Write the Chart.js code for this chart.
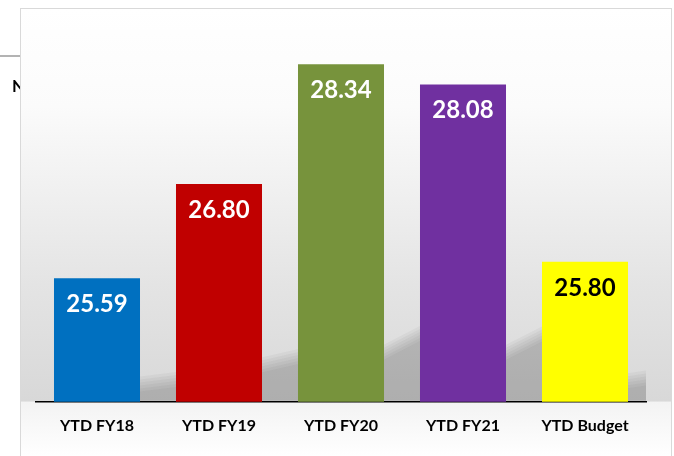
<!DOCTYPE html>
<html>
<head>
<meta charset="utf-8">
<script src="https://cdn.jsdelivr.net/npm/chart.js@4.4.1/dist/chart.umd.min.js"></script>
<style>
  html, body { margin: 0; padding: 0; background: #fff; }
  #wrap { width: 674px; height: 456px; }
</style>
</head>
<body>
<div id="wrap"><canvas id="myChart"></canvas></div>
<script>
// chart data
var labels = ['YTD FY18', 'YTD FY19', 'YTD FY20', 'YTD FY21', 'YTD Budget'];
var values = [25.59, 26.80, 28.34, 28.08, 25.80];
var barColors = ['#0070C0', '#C00000', '#77933C', '#7030A0', '#FFFF00'];
var labelColors = ['#ffffff', '#ffffff', '#ffffff', '#ffffff', '#000000'];
var barPct = 0.705;

/* backdrop: slide frame + gradient wall */
var backdrop = {
  id: 'backdrop',
  beforeDraw: function(chart){
    var ctx = chart.ctx;
    var area = chart.chartArea;
    ctx.save();
    // bits of the slide behind the chart
    ctx.strokeStyle = '#9a9a9a';
    ctx.lineWidth = 1.5;
    ctx.beginPath();
    ctx.moveTo(0, 56);
    ctx.lineTo(20, 56);
    ctx.stroke();
    ctx.fillStyle = '#000';
    ctx.font = 'bold 17px Lato';
    ctx.textBaseline = 'middle';
    ctx.fillText('N', 12, 87);

    // frame
    var g = ctx.createLinearGradient(0, 8, 0, area.bottom);
    g.addColorStop(0, '#ffffff');
    g.addColorStop(0.25, '#fbfbfb');
    g.addColorStop(0.7, '#e4e4e4');
    g.addColorStop(1, '#d8d8d8');
    ctx.fillStyle = g;
    ctx.fillRect(20, 8, 651, area.bottom - 8);
    var g2 = ctx.createLinearGradient(0, area.bottom, 0, 456);
    g2.addColorStop(0, '#f3f3f3');
    g2.addColorStop(1, '#ffffff');
    ctx.fillStyle = g2;
    ctx.fillRect(20, area.bottom, 651, 456 - area.bottom);
    ctx.strokeStyle = '#d9d9d9';
    ctx.lineWidth = 1;
    ctx.strokeRect(20.5, 8.5, 651, 460);
    ctx.restore();
  },
  beforeDatasetsDraw: function(chart){
    // slanted soft shadows cast to the right of each bar
    var ctx = chart.ctx;
    var area = chart.chartArea;
    var xs = chart.scales.x, ys = chart.scales.y;
    var half = xs.width / labels.length * barPct / 2;
    ctx.save();
    ctx.beginPath();
    ctx.rect(area.left, 0, area.right - area.left, area.bottom - 1);
    ctx.clip();
    for (var i = 0; i < values.length; i++){
      var cx = xs.getPixelForValue(i);
      var top = ys.getPixelForValue(values[i]);
      var base = area.bottom;
      var h = base - top;
      var R = cx + half;
      var y0 = Math.min(h * 0.2, 55);
      var y1 = Math.min(h * 0.25, 80);
      for (var k = 0; k < 6; k++){
        var d = k * 3;
        ctx.fillStyle = 'rgba(40,40,40,0.045)';
        ctx.beginPath();
        ctx.moveTo(R - 4, base);
        ctx.lineTo(R + 44, base);
        ctx.lineTo(R + 44, base - y1 + d);
        ctx.lineTo(R - 4, base - y0 + d);
        ctx.closePath();
        ctx.fill();
      }
    }
    ctx.restore();
  }
};

/* value labels inside the top of each bar */
var valueLabels = {
  id: 'valueLabels',
  afterDatasetsDraw: function(chart){
    var ctx = chart.ctx;
    var meta = chart.getDatasetMeta(0);
    ctx.save();
    ctx.font = 'bold 24px Lato';
    ctx.textAlign = 'center';
    ctx.textBaseline = 'middle';
    meta.data.forEach(function(bar, i){
      ctx.fillStyle = labelColors[i];
      ctx.fillText(values[i].toFixed(2), bar.x, bar.y + 26);
    });
    ctx.restore();
  }
};

const ctx1 = document.getElementById('myChart');
new Chart(ctx1, {
  type: 'bar',
  data: {
    labels: labels,
    datasets: [{
      data: values,
      backgroundColor: barColors,
      borderWidth: 0,
      barPercentage: barPct,
      categoryPercentage: 1
    }]
  },
  options: {
    responsive: true,
    maintainAspectRatio: false,
    animation: false,
    layout: {
      padding: { left: 36, right: 28, top: 13, bottom: 15 }
    },
    plugins: {
      legend: { display: false },
      tooltip: { enabled: false }
    },
    scales: {
      x: {
        grid: { display: false },
        border: { display: true, color: '#000', width: 1.5 },
        ticks: {
          color: '#000',
          padding: 6,
          font: { family: 'Lato', weight: 'bold', size: 16 }
        }
      },
      y: {
        display: false,
        min: 24,
        max: 29
      }
    }
  },
  plugins: [backdrop, valueLabels]
});
</script>
</body>
</html>
